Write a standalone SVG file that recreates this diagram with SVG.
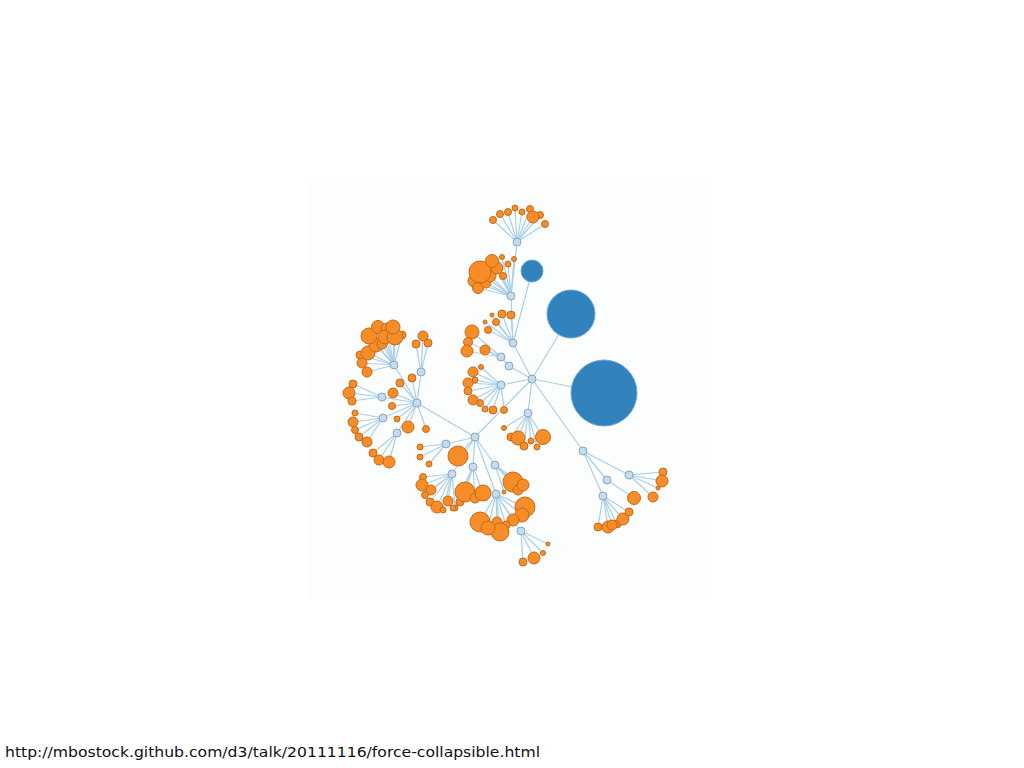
<svg xmlns="http://www.w3.org/2000/svg" width="1024" height="768" viewBox="0 0 1024 768">
<style>
line{stroke:#a9d0e6;stroke-width:1.2}
.h{fill:#c6dbef;stroke:#8aa6c0;stroke-width:1}
.l{fill:#f68d27;stroke:#c46a1c;stroke-width:1}
.b{fill:#3182bd;stroke:#6aa6d6;stroke-width:1}
text{font-family:"DejaVu Sans",sans-serif;font-size:14px;fill:#111}
</style>
<rect x="0" y="0" width="1024" height="768" fill="#ffffff"/>
<rect x="310" y="178" width="395" height="422" fill="#fcfdfd"/>
<g id="links">
<line x1="532" y1="379" x2="604" y2="393"/><line x1="532" y1="379" x2="571" y2="314"/><line x1="532" y1="379" x2="513" y2="343"/><line x1="532" y1="379" x2="509" y2="366"/><line x1="532" y1="379" x2="501" y2="385"/><line x1="532" y1="379" x2="528" y2="413"/><line x1="532" y1="379" x2="475" y2="437"/><line x1="532" y1="379" x2="583" y2="451"/>
<line x1="513" y1="343" x2="532" y2="271"/><line x1="513" y1="343" x2="511" y2="296"/><line x1="511" y1="296" x2="517" y2="242"/><line x1="509" y1="366" x2="501" y2="357"/>
<line x1="583" y1="451" x2="629" y2="475"/><line x1="583" y1="451" x2="607" y2="480"/><line x1="583" y1="451" x2="603" y2="496"/>
<line x1="475" y1="437" x2="417" y2="403"/><line x1="475" y1="437" x2="446" y2="444"/><line x1="475" y1="437" x2="452" y2="474"/><line x1="475" y1="437" x2="473" y2="467"/><line x1="475" y1="437" x2="495" y2="465"/><line x1="475" y1="437" x2="496" y2="494"/><line x1="496" y1="494" x2="521" y2="531"/><line x1="475" y1="437" x2="458" y2="456"/>
<line x1="417" y1="403" x2="394" y2="365"/><line x1="417" y1="403" x2="421" y2="372"/><line x1="417" y1="403" x2="382" y2="397"/><line x1="417" y1="403" x2="383" y2="418"/><line x1="417" y1="403" x2="397" y2="433"/>
<line x1="517" y1="242" x2="493" y2="220"/><line x1="517" y1="242" x2="500" y2="214"/><line x1="517" y1="242" x2="508" y2="212"/><line x1="517" y1="242" x2="515" y2="208"/><line x1="517" y1="242" x2="522" y2="212"/><line x1="517" y1="242" x2="530" y2="209"/><line x1="517" y1="242" x2="533" y2="217"/><line x1="517" y1="242" x2="540" y2="215"/><line x1="517" y1="242" x2="545" y2="224"/>
<line x1="511" y1="296" x2="480" y2="272"/><line x1="511" y1="296" x2="492" y2="261"/><line x1="511" y1="296" x2="497" y2="268"/><line x1="511" y1="296" x2="474" y2="281"/><line x1="511" y1="296" x2="478" y2="288"/><line x1="511" y1="296" x2="502" y2="257"/><line x1="511" y1="296" x2="508" y2="264"/><line x1="511" y1="296" x2="514" y2="259"/><line x1="511" y1="296" x2="503" y2="276"/><line x1="511" y1="296" x2="486" y2="283"/><line x1="511" y1="296" x2="490" y2="276"/>
<line x1="513" y1="343" x2="492" y2="315"/><line x1="513" y1="343" x2="485" y2="322"/><line x1="513" y1="343" x2="502" y2="314"/><line x1="513" y1="343" x2="511" y2="315"/><line x1="513" y1="343" x2="496" y2="322"/><line x1="513" y1="343" x2="488" y2="330"/>
<line x1="501" y1="357" x2="472" y2="332"/><line x1="501" y1="357" x2="468" y2="342"/><line x1="501" y1="357" x2="467" y2="351"/><line x1="501" y1="357" x2="485" y2="350"/>
<line x1="501" y1="385" x2="481" y2="367"/><line x1="501" y1="385" x2="473" y2="372"/><line x1="501" y1="385" x2="475" y2="380"/><line x1="501" y1="385" x2="468" y2="383"/><line x1="501" y1="385" x2="468" y2="391"/><line x1="501" y1="385" x2="473" y2="400"/><line x1="501" y1="385" x2="480" y2="403"/><line x1="501" y1="385" x2="485" y2="409"/><line x1="501" y1="385" x2="493" y2="410"/><line x1="501" y1="385" x2="504" y2="410"/>
<line x1="528" y1="413" x2="504" y2="428"/><line x1="528" y1="413" x2="511" y2="437"/><line x1="528" y1="413" x2="518" y2="438"/><line x1="528" y1="413" x2="524" y2="446"/><line x1="528" y1="413" x2="531" y2="441"/><line x1="528" y1="413" x2="537" y2="447"/><line x1="528" y1="413" x2="543" y2="437"/>
<line x1="446" y1="444" x2="420" y2="447"/><line x1="446" y1="444" x2="420" y2="457"/><line x1="446" y1="444" x2="429" y2="464"/>
<line x1="417" y1="403" x2="426" y2="429"/><line x1="417" y1="403" x2="393" y2="393"/><line x1="417" y1="403" x2="392" y2="406"/><line x1="417" y1="403" x2="397" y2="419"/><line x1="417" y1="403" x2="408" y2="427"/><line x1="417" y1="403" x2="400" y2="383"/><line x1="417" y1="403" x2="412" y2="378"/>
<line x1="394" y1="365" x2="369" y2="336"/><line x1="394" y1="365" x2="378" y2="327"/><line x1="394" y1="365" x2="393" y2="327"/><line x1="394" y1="365" x2="395" y2="337"/><line x1="394" y1="365" x2="385" y2="336"/><line x1="394" y1="365" x2="368" y2="353"/><line x1="394" y1="365" x2="360" y2="355"/><line x1="394" y1="365" x2="362" y2="363"/><line x1="394" y1="365" x2="367" y2="372"/><line x1="394" y1="365" x2="376" y2="345"/><line x1="394" y1="365" x2="402" y2="335"/><line x1="394" y1="365" x2="387" y2="329"/><line x1="394" y1="365" x2="382" y2="344"/>
<line x1="421" y1="372" x2="423" y2="336"/><line x1="421" y1="372" x2="416" y2="344"/><line x1="421" y1="372" x2="428" y2="343"/>
<line x1="382" y1="397" x2="353" y2="384"/><line x1="382" y1="397" x2="349" y2="393"/><line x1="382" y1="397" x2="352" y2="401"/>
<line x1="383" y1="418" x2="355" y2="413"/><line x1="383" y1="418" x2="353" y2="422"/><line x1="383" y1="418" x2="355" y2="430"/><line x1="383" y1="418" x2="359" y2="437"/><line x1="383" y1="418" x2="367" y2="442"/>
<line x1="397" y1="433" x2="373" y2="453"/><line x1="397" y1="433" x2="379" y2="460"/><line x1="397" y1="433" x2="389" y2="462"/>
<line x1="452" y1="474" x2="422" y2="485"/><line x1="452" y1="474" x2="425" y2="495"/><line x1="452" y1="474" x2="431" y2="490"/><line x1="452" y1="474" x2="437" y2="507"/><line x1="452" y1="474" x2="430" y2="502"/><line x1="452" y1="474" x2="448" y2="501"/><line x1="452" y1="474" x2="443" y2="510"/><line x1="452" y1="474" x2="455" y2="508"/><line x1="452" y1="474" x2="423" y2="477"/>
<line x1="473" y1="467" x2="465" y2="492"/><line x1="473" y1="467" x2="483" y2="493"/><line x1="473" y1="467" x2="475" y2="498"/><line x1="473" y1="467" x2="460" y2="502"/><line x1="473" y1="467" x2="453" y2="508"/>
<line x1="495" y1="465" x2="513" y2="482"/><line x1="495" y1="465" x2="523" y2="485"/><line x1="495" y1="465" x2="518" y2="490"/><line x1="495" y1="465" x2="504" y2="492"/>
<line x1="496" y1="494" x2="480" y2="522"/><line x1="496" y1="494" x2="488" y2="528"/><line x1="496" y1="494" x2="500" y2="532"/><line x1="496" y1="494" x2="506" y2="525"/><line x1="496" y1="494" x2="513" y2="520"/><line x1="496" y1="494" x2="522" y2="515"/><line x1="496" y1="494" x2="525" y2="507"/><line x1="496" y1="494" x2="497" y2="522"/>
<line x1="521" y1="531" x2="523" y2="562"/><line x1="521" y1="531" x2="534" y2="558"/><line x1="521" y1="531" x2="543" y2="553"/><line x1="521" y1="531" x2="548" y2="544"/>
<line x1="629" y1="475" x2="663" y2="472"/><line x1="629" y1="475" x2="662" y2="481"/><line x1="629" y1="475" x2="658" y2="488"/><line x1="629" y1="475" x2="653" y2="497"/>
<line x1="607" y1="480" x2="634" y2="498"/>
<line x1="603" y1="496" x2="598" y2="527"/><line x1="603" y1="496" x2="608" y2="527"/><line x1="603" y1="496" x2="617" y2="524"/><line x1="603" y1="496" x2="623" y2="519"/><line x1="603" y1="496" x2="629" y2="512"/><line x1="603" y1="496" x2="612" y2="525"/>
</g>
<g id="blue">
<g id="flex"><circle class="b" cx="604" cy="393" r="33"/></g>
<g id="vis"><circle class="b" cx="571" cy="314" r="24"/></g>
<g id="small"><circle class="b" cx="532" cy="271" r="11"/></g>
</g>
<g id="leaves">
<g id="t1"><circle class="l" cx="493" cy="220" r="3.5"/></g><g id="t2"><circle class="l" cx="500" cy="214" r="3.5"/></g><g id="t3"><circle class="l" cx="508" cy="212" r="3.5"/></g><g id="t4"><circle class="l" cx="515" cy="208" r="3"/></g><g id="t5"><circle class="l" cx="522" cy="212" r="3"/></g><g id="t6"><circle class="l" cx="530" cy="209" r="3.5"/></g><g id="t7"><circle class="l" cx="540" cy="215" r="3.5"/></g><g id="t8"><circle class="l" cx="545" cy="224" r="3.5"/></g><g id="t9"><circle class="l" cx="533" cy="217" r="6"/></g>
<g id="a1"><circle class="l" cx="474" cy="281" r="6"/></g><g id="a2"><circle class="l" cx="478" cy="288" r="5.5"/></g><g id="a3"><circle class="l" cx="486" cy="283" r="5"/></g><g id="a11"><circle class="l" cx="490" cy="276" r="6"/></g><g id="a4"><circle class="l" cx="480" cy="272" r="11"/></g><g id="a5"><circle class="l" cx="497" cy="268" r="6"/></g><g id="a6"><circle class="l" cx="492" cy="261" r="6.5"/></g><g id="a7"><circle class="l" cx="503" cy="276" r="3.5"/></g><g id="a8"><circle class="l" cx="502" cy="257" r="2.5"/></g><g id="a9"><circle class="l" cx="508" cy="264" r="3"/></g><g id="a10"><circle class="l" cx="514" cy="259" r="2.5"/></g>
<g id="bb1"><circle class="l" cx="492" cy="315" r="2"/></g><g id="bb2"><circle class="l" cx="485" cy="322" r="2"/></g><g id="bb3"><circle class="l" cx="502" cy="314" r="4"/></g><g id="bb4"><circle class="l" cx="511" cy="315" r="4"/></g><g id="bb5"><circle class="l" cx="496" cy="322" r="3.5"/></g><g id="bb6"><circle class="l" cx="488" cy="330" r="3.5"/></g>
<g id="c21"><circle class="l" cx="472" cy="332" r="7"/></g><g id="c22"><circle class="l" cx="468" cy="342" r="4.5"/></g><g id="c23"><circle class="l" cx="467" cy="351" r="6"/></g><g id="c24"><circle class="l" cx="485" cy="350" r="5"/></g>
<g id="hc1"><circle class="l" cx="481" cy="367" r="2.5"/></g><g id="hc2"><circle class="l" cx="473" cy="372" r="5"/></g><g id="hc3"><circle class="l" cx="475" cy="380" r="3"/></g><g id="hc4"><circle class="l" cx="468" cy="383" r="5"/></g><g id="hc5"><circle class="l" cx="468" cy="391" r="4"/></g><g id="hc6"><circle class="l" cx="473" cy="400" r="5"/></g><g id="hc7"><circle class="l" cx="480" cy="403" r="3.5"/></g><g id="hc8"><circle class="l" cx="485" cy="409" r="3"/></g><g id="hc9"><circle class="l" cx="493" cy="410" r="4"/></g><g id="hc10"><circle class="l" cx="504" cy="410" r="3.5"/></g>
<g id="d1"><circle class="l" cx="504" cy="428" r="2.5"/></g><g id="d2"><circle class="l" cx="511" cy="437" r="4"/></g><g id="d3"><circle class="l" cx="518" cy="438" r="7"/></g><g id="d4"><circle class="l" cx="524" cy="446" r="4"/></g><g id="d5"><circle class="l" cx="531" cy="441" r="3"/></g><g id="d6"><circle class="l" cx="537" cy="447" r="3"/></g><g id="d7"><circle class="l" cx="543" cy="437" r="7.5"/></g>
<g id="ebig"><circle class="l" cx="458" cy="456" r="10"/></g>
<g id="e11"><circle class="l" cx="420" cy="447" r="3"/></g><g id="e12"><circle class="l" cx="420" cy="457" r="3"/></g><g id="e13"><circle class="l" cx="429" cy="464" r="3"/></g>
<g id="gg1"><circle class="l" cx="426" cy="429" r="3.5"/></g><g id="gg2"><circle class="l" cx="393" cy="393" r="5"/></g><g id="gg3"><circle class="l" cx="392" cy="406" r="3.5"/></g><g id="gg4"><circle class="l" cx="397" cy="419" r="3"/></g><g id="gg5"><circle class="l" cx="408" cy="427" r="6"/></g><g id="gg6"><circle class="l" cx="400" cy="383" r="4"/></g><g id="gg7"><circle class="l" cx="412" cy="378" r="4"/></g>
<g id="g11"><circle class="l" cx="367" cy="372" r="5"/></g><g id="g12"><circle class="l" cx="362" cy="363" r="5"/></g><g id="g13"><circle class="l" cx="360" cy="355" r="4"/></g><g id="g14"><circle class="l" cx="368" cy="353" r="7"/></g><g id="g15"><circle class="l" cx="376" cy="345" r="7"/></g><g id="g113"><circle class="l" cx="382" cy="344" r="5"/></g><g id="g16"><circle class="l" cx="369" cy="336" r="8"/></g><g id="g17"><circle class="l" cx="378" cy="327" r="6.5"/></g><g id="g18"><circle class="l" cx="387" cy="329" r="6"/></g><g id="g19"><circle class="l" cx="385" cy="337" r="7"/></g><g id="g110"><circle class="l" cx="402" cy="335" r="4"/></g><g id="g111"><circle class="l" cx="395" cy="337" r="8"/></g><g id="g112"><circle class="l" cx="393" cy="327" r="7"/></g>
<g id="g21"><circle class="l" cx="423" cy="336" r="5"/></g><g id="g22"><circle class="l" cx="416" cy="344" r="4"/></g><g id="g23"><circle class="l" cx="428" cy="343" r="4"/></g>
<g id="g31"><circle class="l" cx="353" cy="384" r="4"/></g><g id="g32"><circle class="l" cx="349" cy="393" r="6"/></g><g id="g33"><circle class="l" cx="352" cy="401" r="4"/></g>
<g id="g41"><circle class="l" cx="355" cy="413" r="3"/></g><g id="g42"><circle class="l" cx="353" cy="422" r="5"/></g><g id="g43"><circle class="l" cx="355" cy="430" r="3.5"/></g><g id="g44"><circle class="l" cx="359" cy="437" r="4"/></g><g id="g45"><circle class="l" cx="367" cy="442" r="5"/></g>
<g id="g51"><circle class="l" cx="373" cy="453" r="4"/></g><g id="g52"><circle class="l" cx="379" cy="460" r="5"/></g><g id="g53"><circle class="l" cx="389" cy="462" r="6"/></g>
<g id="e21"><circle class="l" cx="423" cy="477" r="3.5"/></g><g id="e22"><circle class="l" cx="422" cy="485" r="6"/></g><g id="e23"><circle class="l" cx="431" cy="490" r="5"/></g><g id="e24"><circle class="l" cx="425" cy="495" r="3.5"/></g><g id="e25"><circle class="l" cx="430" cy="502" r="4"/></g><g id="e26"><circle class="l" cx="437" cy="507" r="6"/></g><g id="e27"><circle class="l" cx="443" cy="510" r="3"/></g><g id="e28"><circle class="l" cx="448" cy="501" r="5"/></g><g id="e29"><circle class="l" cx="455" cy="508" r="3"/></g>
<g id="e31"><circle class="l" cx="453" cy="508" r="3"/></g><g id="e32"><circle class="l" cx="460" cy="502" r="4"/></g><g id="e33"><circle class="l" cx="465" cy="492" r="10"/></g><g id="e34"><circle class="l" cx="475" cy="498" r="5"/></g><g id="e35"><circle class="l" cx="483" cy="493" r="8"/></g>
<g id="e41"><circle class="l" cx="504" cy="492" r="2"/></g><g id="e42"><circle class="l" cx="513" cy="482" r="10"/></g><g id="e43"><circle class="l" cx="518" cy="490" r="5"/></g><g id="e44"><circle class="l" cx="523" cy="485" r="6"/></g>
<g id="e51"><circle class="l" cx="525" cy="507" r="10"/></g><g id="e52"><circle class="l" cx="522" cy="515" r="7"/></g><g id="e53"><circle class="l" cx="513" cy="520" r="6"/></g><g id="e54"><circle class="l" cx="506" cy="525" r="4"/></g><g id="e55"><circle class="l" cx="480" cy="522" r="10"/></g><g id="e56"><circle class="l" cx="497" cy="522" r="5"/></g><g id="e57"><circle class="l" cx="500" cy="532" r="9"/></g><g id="e58"><circle class="l" cx="488" cy="528" r="7"/></g>
<g id="e61"><circle class="l" cx="523" cy="562" r="4"/></g><g id="e62"><circle class="l" cx="534" cy="558" r="6"/></g><g id="e63"><circle class="l" cx="543" cy="553" r="2.5"/></g><g id="e64"><circle class="l" cx="548" cy="544" r="2"/></g>
<g id="f11"><circle class="l" cx="663" cy="472" r="4"/></g><g id="f12"><circle class="l" cx="662" cy="481" r="6"/></g><g id="f13"><circle class="l" cx="658" cy="488" r="2"/></g><g id="f14"><circle class="l" cx="653" cy="497" r="5"/></g>
<g id="f21"><circle class="l" cx="634" cy="498" r="6.5"/></g>
<g id="f31"><circle class="l" cx="598" cy="527" r="4"/></g><g id="f32"><circle class="l" cx="608" cy="527" r="6"/></g><g id="f33"><circle class="l" cx="617" cy="524" r="4"/></g><g id="f36"><circle class="l" cx="612" cy="525" r="5"/></g><g id="f34"><circle class="l" cx="623" cy="519" r="6"/></g><g id="f35"><circle class="l" cx="629" cy="512" r="4"/></g>
</g>
<g id="hubs">
<g id="root"><circle class="h" cx="532" cy="379" r="4"/></g>
<g id="tA"><circle class="h" cx="517" cy="242" r="4"/></g>
<g id="hA"><circle class="h" cx="511" cy="296" r="4"/></g>
<g id="hB"><circle class="h" cx="513" cy="343" r="4"/></g>
<g id="c1"><circle class="h" cx="509" cy="366" r="4"/></g>
<g id="c2"><circle class="h" cx="501" cy="357" r="4"/></g>
<g id="hC"><circle class="h" cx="501" cy="385" r="4"/></g>
<g id="hD"><circle class="h" cx="528" cy="413" r="4"/></g>
<g id="hE"><circle class="h" cx="475" cy="437" r="4"/></g>
<g id="hF"><circle class="h" cx="583" cy="451" r="4"/></g>
<g id="f1"><circle class="h" cx="629" cy="475" r="4"/></g>
<g id="f2"><circle class="h" cx="607" cy="480" r="4"/></g>
<g id="f3"><circle class="h" cx="603" cy="496" r="4"/></g>
<g id="hG"><circle class="h" cx="417" cy="403" r="4"/></g>
<g id="g1"><circle class="h" cx="394" cy="365" r="4"/></g>
<g id="g2"><circle class="h" cx="421" cy="372" r="4"/></g>
<g id="g3"><circle class="h" cx="382" cy="397" r="4"/></g>
<g id="g4"><circle class="h" cx="383" cy="418" r="4"/></g>
<g id="g5"><circle class="h" cx="397" cy="433" r="4"/></g>
<g id="e1"><circle class="h" cx="446" cy="444" r="4"/></g>
<g id="e2"><circle class="h" cx="452" cy="474" r="4"/></g>
<g id="e3"><circle class="h" cx="473" cy="467" r="4"/></g>
<g id="e4"><circle class="h" cx="495" cy="465" r="4"/></g>
<g id="e5"><circle class="h" cx="496" cy="494" r="4"/></g>
<g id="e6"><circle class="h" cx="521" cy="531" r="4"/></g>
</g>
<text x="5" y="757" textLength="535" lengthAdjust="spacingAndGlyphs">http://mbostock.github.com/d3/talk/20111116/force-collapsible.html</text>
</svg>
